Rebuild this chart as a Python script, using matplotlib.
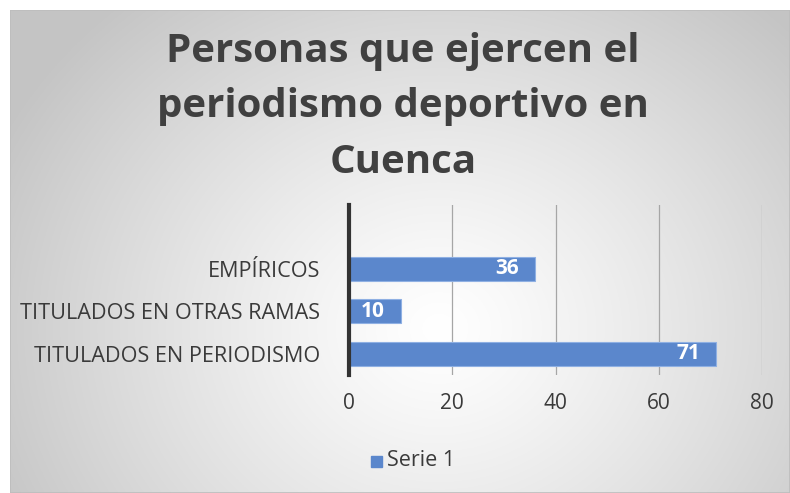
import matplotlib
matplotlib.use("Agg")
import matplotlib.pyplot as plt
import numpy as np
from matplotlib.patches import Rectangle

plt.rcParams["font.family"] = ["Open Sans", "DejaVu Sans"]

categories = ["TITULADOS EN PERIODISMO", "TITULADOS EN OTRAS RAMAS", "EMPÍRICOS"]
values = [71, 10, 36]
x_ticks = [0, 20, 40, 60, 80]
title = "Personas que ejercen el\nperiodismo deportivo en\nCuenca"
series_name = "Serie 1"

BAR = "#5b87cc"
INK = "#404040"
TICK = "#3a3a3a"
GRID = "#a6a6a6"

W, H = 790, 493
fig = plt.figure(figsize=(W / 100, H / 100), dpi=100, facecolor="white")

# radial gradient background for the chart area
bg = fig.add_axes([10 / W, 0, 1 - 10 / W, 1 - 10 / H], zorder=0)
yy, xx = np.mgrid[0:1:300j, 0:1:500j]
cx, cy = 0.55, 0.66
r = np.sqrt(((xx - cx) * 1.35) ** 2 + ((yy - cy) * 0.95) ** 2)
r = np.clip(r / 0.85, 0, 1)
shade = 1 - 0.23 * r ** 1.2
bg.imshow(np.dstack([shade] * 3), extent=[0, 1, 0, 1], aspect="auto", origin="upper")
bg.add_patch(Rectangle((0, 0), 1, 1, transform=bg.transAxes, fill=False,
                       edgecolor="#bdbdbd", lw=1.2))
bg.set_axis_off()

ax = fig.add_axes([349 / W, 1 - 375 / H, (762 - 349) / W, (375 - 205) / H], zorder=1)
ax.set_facecolor("none")
ypos = np.arange(len(categories))
ax.barh(ypos, values, height=0.57, color=BAR, edgecolor="#8fb0e3", lw=0.8, zorder=3)
for y, v in zip(ypos, values):
    ax.text(v - 3.0, y, str(v), ha="right", va="center", color="white",
            fontsize=15, fontweight="bold", zorder=4)

ax.set_xlim(0, 80)
ax.set_ylim(-0.5, 3.5)
ax.set_xticks(x_ticks)
ax.set_xticklabels([str(t) for t in x_ticks], fontsize=15, color=TICK)
ax.set_yticks(ypos)
ax.set_yticklabels(categories, fontsize=15.6, color=TICK)
ax.tick_params(length=0, pad=13, axis="x")
ax.tick_params(length=0, pad=21, axis="y")
ax.xaxis.grid(True, color=GRID, lw=0.9, zorder=1)
for s in ["top", "right", "bottom"]:
    ax.spines[s].set_visible(False)
ax.spines["left"].set_color("#333333")
ax.spines["left"].set_linewidth(3)
ax.spines["left"].set_zorder(5)

fig.text(0.51, 1 - 107 / H, title, ha="center", va="center", fontsize=29,
         fontweight="bold", color=INK, linespacing=1.55)

# legend
fig.patches.append(Rectangle((371 / W, 1 - 467 / H), 11 / W, 11 / H,
                             transform=fig.transFigure, color=BAR))
fig.text(387 / W, 1 - 461 / H, series_name, ha="left", va="center",
         fontsize=15.5, color=TICK)

fig.savefig("out.png", dpi=100, facecolor="white")
